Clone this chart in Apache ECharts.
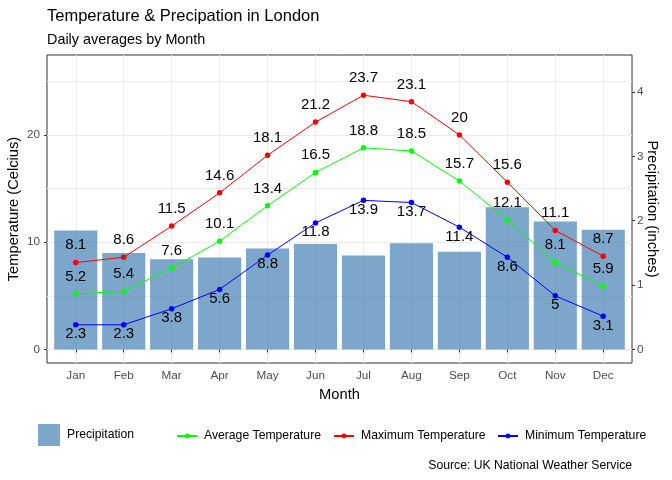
<!DOCTYPE html>
<html><head><meta charset="utf-8">
<script src="https://cdn.jsdelivr.net/npm/echarts@6/dist/echarts.min.js"></script>
<style>html,body{margin:0;padding:0;background:#fff}#c{width:672px;height:480px}</style>
</head><body><div id="c"></div>
<script>
const months = ['Jan','Feb','Mar','Apr','May','Jun','Jul','Aug','Sep','Oct','Nov','Dec'];
const precipitation = [1.85, 1.50, 1.40, 1.43, 1.57, 1.64, 1.46, 1.65, 1.52, 2.21, 1.99, 1.86];
const avgTemp = [5.2, 5.4, 7.6, 10.1, 13.4, 16.5, 18.8, 18.5, 15.7, 12.1, 8.1, 5.9];
const maxTemp = [8.1, 8.6, 11.5, 14.6, 18.1, 21.2, 23.7, 23.1, 20, 15.6, 11.1, 8.7];
const minTemp = [2.3, 2.3, 3.8, 5.6, 8.8, 11.8, 13.9, 13.7, 11.4, 8.6, 5, 3.1];
const tempTicks = [0, 10, 20];
const tempGridTicks = [0, 5, 10, 15, 20, 25];
const precipTicks = [0, 1, 2, 3, 4];

const FONT = '"Liberation Sans", Arial, sans-serif';
const idx = months.map((m, i) => i);
const toXY = arr => arr.map((v, i) => [i, v]);
const chart = echarts.init(document.getElementById('c'), null, {renderer: 'canvas'});

function lineSeries(name, data, color, pos, dist) {
  return {
    type: 'line', name: name, xAxisIndex: 0, yAxisIndex: 0, data: toXY(data),
    symbol: 'circle', symbolSize: 5.5, showAllSymbol: true, z: 3,
    lineStyle: {color: color, width: 1}, itemStyle: {color: color},
    label: {show: true, position: pos, distance: dist, color: '#000', fontSize: 15,
      fontFamily: FONT, formatter: p => String(p.value[1])}
  };
}
const axisText = {color: '#4d4d4d', fontSize: 11.7, fontFamily: FONT};
const nameText = {color: '#000', fontSize: 14.7, fontFamily: FONT};
const legText = {color: '#000', fontSize: 12.2, fontFamily: FONT, padding: [2, 0, 0, 2]};

const option = {
  animation: false,
  backgroundColor: '#fff',
  title: [
    {text: 'Temperature & Precipation in London', left: 47, top: 7.5, padding: 0,
     textStyle: {fontFamily: FONT, fontSize: 16.5, fontWeight: 'normal', color: '#000'}},
    {text: 'Daily averages by Month', left: 47, top: 33, padding: 0,
     textStyle: {fontFamily: FONT, fontSize: 14.4, fontWeight: 'normal', color: '#000'}},
    {text: 'Source: UK National Weather Service', right: 40, top: 460, padding: 0,
     textStyle: {fontFamily: FONT, fontSize: 12.2, fontWeight: 'normal', color: '#000'}}
  ],
  grid: {left: 47, right: 40, top: 55, bottom: 117, show: true, borderColor: '#333', borderWidth: 1,
         containLabel: false, outerBoundsMode: 'none'},
  xAxis: {
    type: 'value', min: -0.6, max: 11.6,
    axisLine: {show: false},
    axisTick: {show: true, customValues: idx, length: 3, lineStyle: {color: '#333'}},
    axisLabel: Object.assign({customValues: idx, margin: 7, formatter: v => months[v]}, axisText),
    splitLine: {show: true, lineStyle: {color: '#ebebeb', width: 1}},
    name: 'Month', nameLocation: 'middle', nameGap: 24, nameMoveOverlap: false, nameTextStyle: nameText
  },
  yAxis: [
    {type: 'value', position: 'left', min: -1.26, max: 27.45,
     axisLine: {show: false},
     axisTick: {show: false, customValues: tempGridTicks},
     axisLabel: Object.assign({customValues: tempTicks, margin: 7}, axisText),
     splitLine: {show: true, lineStyle: {color: '#ebebeb', width: 1}},
     name: 'Temperature (Celcius)', nameLocation: 'middle', nameGap: 26, nameMoveOverlap: false, nameTextStyle: nameText},
    {type: 'value', position: 'right', min: -0.21, max: 4.575,
     axisLine: {show: false},
     axisTick: {show: true, customValues: precipTicks, length: 3, lineStyle: {color: '#333'}},
     axisLabel: Object.assign({customValues: precipTicks, margin: 5}, axisText),
     splitLine: {show: false},
     name: 'Precipitation (inches)', nameLocation: 'middle', nameRotate: -90, nameGap: 13, nameMoveOverlap: false, nameTextStyle: nameText},
    {type: 'value', position: 'left', min: -1.26, max: 27.45, offset: 0,
     axisLine: {show: false},
     axisTick: {show: true, customValues: tempTicks, length: 3, lineStyle: {color: '#333'}},
     axisLabel: {show: false},
     splitLine: {show: false}, splitArea: {show: false}}
  ],
  legend: [
    {data: [{name: 'Precipitation', icon: 'rect'}], left: 38, top: 424, padding: 0,
     itemWidth: 22, itemHeight: 22, textStyle: legText},
    {data: ['Average Temperature'], left: 176, top: 430, padding: 0, itemWidth: 20, itemHeight: 6, textStyle: legText},
    {data: ['Maximum Temperature'], left: 333, top: 430, padding: 0, itemWidth: 20, itemHeight: 6, textStyle: legText},
    {data: ['Minimum Temperature'], left: 497, top: 430, padding: 0, itemWidth: 20, itemHeight: 6, textStyle: legText}
  ],
  series: [
    {type: 'bar', name: 'Precipitation', xAxisIndex: 0, yAxisIndex: 1, data: toXY(precipitation),
     barWidth: '90%', z: 2, itemStyle: {color: 'rgba(70,130,180,0.7)'}},
    lineSeries('Average Temperature', avgTemp, '#00ff00', 'top', 7),
    lineSeries('Maximum Temperature', maxTemp, '#ff0000', 'top', 7),
    lineSeries('Minimum Temperature', minTemp, '#0000ff', 'bottom', -1)
  ]
};
chart.setOption(option);
</script></body></html>
